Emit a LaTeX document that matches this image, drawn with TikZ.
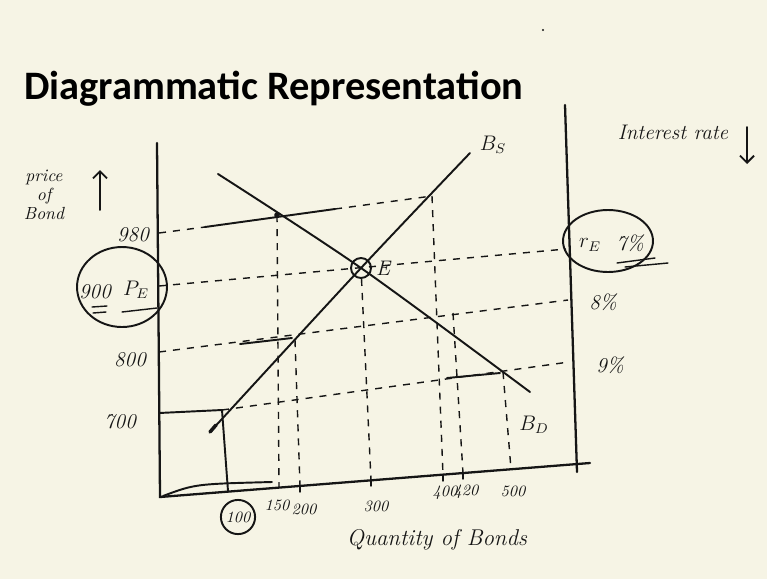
\documentclass[tikz,border=0pt]{standalone}
\usepackage{fontspec}
\newfontfamily\titlefont{Carlito}
\usetikzlibrary{positioning,arrows.meta,shapes.geometric}
\definecolor{paper}{HTML}{F6F4E5}
\definecolor{ink}{HTML}{151515}

\begin{document}
\begin{tikzpicture}[x=0.02cm,y=-0.02cm,
  axis/.style={ink, line width=1.3pt, line cap=round},
  curve/.style={ink, line width=1.1pt, line cap=round},
  guide/.style={ink, line width=0.8pt, dash pattern=on 4pt off 4pt},
  hand/.style={ink, font=\itshape\fontsize{12}{13}\selectfont, inner sep=1pt},
  small/.style={ink, font=\itshape\fontsize{9}{10}\selectfont, inner sep=1pt}]
\fill[paper] (0,0) rectangle (767,579);
\useasboundingbox (0,0) rectangle (767,579);

\node[anchor=west, font=\titlefont\bfseries\fontsize{23}{26}\selectfont] (title) at (18,89) {Diagrammatic Representation};
\fill[ink] (543,30) circle (0.7pt);

% axes
\coordinate (ytop) at (157,143);
\coordinate (O) at (160,497);
\coordinate (xend) at (590,463);
\coordinate (rtop) at (565,105);
\coordinate (rbot) at (577,472);
\draw[axis] (ytop) -- (O) -- (xend);
\draw[axis] (rtop) -- (rbot);
\draw[curve] (163,496) .. controls (195,484) .. (272,482);

% price levels
\coordinate (p980) at (159,233);
\coordinate (p900) at (159,286);
\coordinate (p800) at (159,352);
\coordinate (p700) at (159,413);
\coordinate (q980) at (432,196);
\coordinate (q900) at (566,249);
\coordinate (q800) at (568,300);
\coordinate (q700) at (569,362);
\coordinate (a980) at (205,227);
\coordinate (m980) at (335,209);
\coordinate (c100) at (222,410);
\coordinate (b100) at (228,491);
\draw[guide] (p980) -- (a980);
\draw[curve] (a980) -- (m980);
\draw[guide] (m980) -- (q980);
\draw[guide] (p900) -- (q900);
\draw[guide] (p800) -- (q800);
\draw[curve] (240,344) -- (292,338);
\draw[curve] (p700) -- (c100) -- (b100);
\draw[guide] (c100) -- (q700);
\draw[curve] (447,378) -- (500,373);

% curves
\coordinate (s0) at (210,432);
\coordinate (s1) at (470,153);
\coordinate (d0) at (218,174);
\coordinate (d1) at (530,392);
\coordinate (E) at (361,268);
\draw[curve] plot[smooth] coordinates {(s0) (E) (s1)};
\draw[curve] plot[smooth] coordinates {(d0) (E) (d1)};
\draw[curve, line width=2pt] (s0) -- (216,425);
\node[draw, circle, curve, minimum size=0.4cm, inner sep=0pt] (Ecirc) at (E) {};
\node[hand] (elab) at (383,268) {E};
\node[hand] (bs) at (493,145) {$B_S$};
\node[hand] (bd) at (534,425) {$B_D$};
\fill[ink] (277,215) circle (1.6pt);

% quantities
\coordinate (t150) at (277,215);
\coordinate (b150) at (279,487);
\coordinate (t200) at (295,340);
\coordinate (b200) at (300,486);
\coordinate (b300) at (371,480);
\coordinate (t400) at (432,196);
\coordinate (b400) at (443,475);
\coordinate (t420) at (453,313);
\coordinate (b420) at (463,473);
\coordinate (t500) at (503,372);
\coordinate (b500) at (511,469);
\draw[guide] (t150) -- (b150);
\draw[guide] (t200) -- (b200);
\draw[guide] (Ecirc) -- (b300);
\draw[guide] (t400) -- (b400);
\draw[guide] (t420) -- (b420);
\draw[guide] (t500) -- (b500);
\foreach \q in {200,300,400,420} {
  \draw[curve, line width=0.8pt] (b\q) -- ++(0,6);
}

\node[draw, circle, curve, small, inner sep=1.5pt] (n100) at (238,517) {100};
\node[small] (n150) at (277,505) {150};
\node[small] (n200) at (304,509) {200};
\node[small] (n300) at (376,506) {300};
\node[small] (n400) at (445,493) {400};
\node[small] (n420) at (466,492) {420};
\node[small] (n500) at (513,491) {500};
\node[hand, font=\itshape\fontsize{13}{14}\selectfont] (qlab) at (437,540) {Quantity of Bonds};

% left labels
\node[hand, align=center, font=\itshape\fontsize{10}{11}\selectfont] (plab) at (44,195) {price\\of\\Bond};
\draw[curve, -{Straight Barb[length=4pt]}] (100,210) -- (100,170);
\node[hand] (l980) at (133,235) {980};
\node[hand] (l800) at (130,360) {800};
\node[hand] (l700) at (120,422) {700};
\node[draw, ellipse, curve, minimum width=1.8cm, minimum height=1.6cm] (pE) at (122,287) {};
\node[hand] (l900) at (95,292) {900};
\node[hand] (lpe) at (136,290) {$P_E$};
\draw[curve, line width=0.8pt] (92,307) -- (107,306);
\draw[curve, line width=0.8pt] (93,313) -- (106,312);
\draw[curve, line width=0.8pt] (122,312) -- (157,308);

% right labels
\node[hand] (irate) at (673,132) {Interest rate};
\draw[curve, -{Straight Barb[length=4pt]}] (747,127) -- (747,164);
\node[draw, ellipse, curve, minimum width=1.8cm, minimum height=1.24cm] (rE) at (608,241) {};
\node[hand] (lre) at (590,245) {$r_E$};
\node[hand] (l7) at (630,243) {7\%};
\draw[curve, line width=0.8pt] (617,263) -- (655,258);
\draw[curve, line width=0.8pt] (625,267) -- (668,263);
\node[hand] (l8) at (603,302) {8\%};
\node[hand] (l9) at (610,365) {9\%};
\end{tikzpicture}
\end{document}
